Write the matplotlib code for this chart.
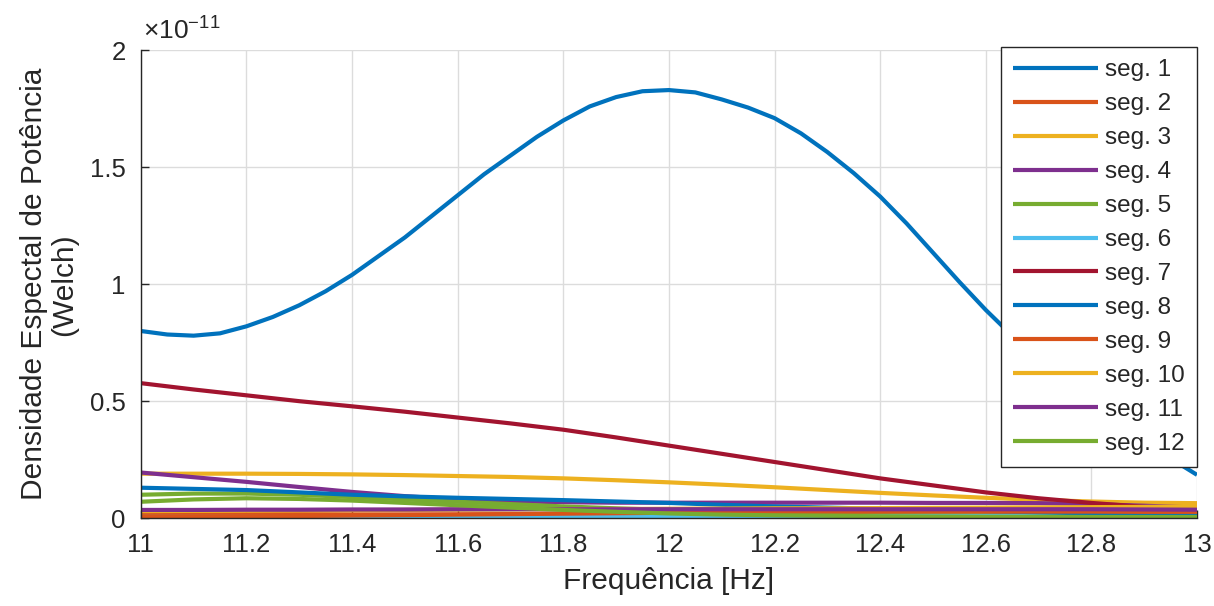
import matplotlib
matplotlib.use("Agg")
import matplotlib.pyplot as plt
import numpy as np

plt.rcParams['font.family'] = ['Liberation Sans', 'DejaVu Sans']
plt.rcParams['mathtext.fontset'] = 'custom'
plt.rcParams['mathtext.rm'] = 'Liberation Sans'
plt.rcParams['mathtext.it'] = 'Liberation Sans'

# frequencias (Hz) e PSD de Welch em unidades de 1e-11
freq = [11.0, 11.1, 11.2, 11.3, 11.4, 11.5, 11.6, 11.7, 11.8, 11.9, 12.0,
        12.1, 12.2, 12.3, 12.4, 12.5, 12.6, 12.7, 12.8, 12.9, 13.0]

# seg. 1 lido com passo mais fino (curva com pico)
freq1 = [11.00, 11.05, 11.10, 11.15, 11.20, 11.25, 11.30, 11.35, 11.40, 11.45,
         11.50, 11.55, 11.60, 11.65, 11.70, 11.75, 11.80, 11.85, 11.90, 11.95,
         12.00, 12.05, 12.10, 12.15, 12.20, 12.25, 12.30, 12.35, 12.40, 12.45,
         12.50, 12.55, 12.60, 12.65, 12.70, 12.75, 12.80, 12.85, 12.90, 12.95, 13.00]
seg1 = [0.800, 0.785, 0.780, 0.790, 0.820, 0.860, 0.910, 0.970, 1.040, 1.120,
        1.200, 1.290, 1.380, 1.470, 1.550, 1.630, 1.700, 1.760, 1.800, 1.825,
        1.830, 1.820, 1.790, 1.755, 1.710, 1.645, 1.565, 1.475, 1.375, 1.260,
        1.135, 1.010, 0.890, 0.780, 0.680, 0.580, 0.490, 0.410, 0.330, 0.255, 0.185]

seg2 = [0.017, 0.017, 0.017, 0.017, 0.016, 0.016, 0.016, 0.017, 0.018, 0.019, 0.020,
        0.021, 0.022, 0.023, 0.024, 0.025, 0.025, 0.026, 0.026, 0.026, 0.026]
seg3 = [0.190, 0.190, 0.190, 0.189, 0.187, 0.184, 0.180, 0.176, 0.170, 0.162, 0.153,
        0.143, 0.132, 0.120, 0.108, 0.097, 0.087, 0.078, 0.071, 0.066, 0.064]
seg4 = [0.195, 0.175, 0.155, 0.133, 0.112, 0.094, 0.080, 0.072, 0.068, 0.066, 0.066,
        0.066, 0.066, 0.066, 0.066, 0.065, 0.065, 0.064, 0.060, 0.053, 0.045]
seg5 = [0.100, 0.105, 0.105, 0.100, 0.090, 0.080, 0.070, 0.060, 0.050, 0.042, 0.035,
        0.030, 0.025, 0.021, 0.018, 0.015, 0.013, 0.011, 0.010, 0.009, 0.008]
seg6 = [0.005, 0.005, 0.005, 0.005, 0.006, 0.006, 0.006, 0.007, 0.007, 0.008, 0.008,
        0.008, 0.009, 0.009, 0.009, 0.010, 0.010, 0.010, 0.010, 0.010, 0.010]
seg7 = [0.577, 0.550, 0.525, 0.500, 0.478, 0.455, 0.430, 0.405, 0.378, 0.345, 0.310,
        0.275, 0.240, 0.205, 0.170, 0.140, 0.110, 0.085, 0.065, 0.048, 0.035]
seg8 = [0.130, 0.125, 0.120, 0.110, 0.100, 0.093, 0.087, 0.082, 0.077, 0.071, 0.065,
        0.057, 0.050, 0.045, 0.040, 0.035, 0.030, 0.025, 0.020, 0.017, 0.015]
seg9 = [0.005, 0.006, 0.007, 0.009, 0.011, 0.013, 0.015, 0.017, 0.019, 0.021, 0.023,
        0.025, 0.027, 0.028, 0.028, 0.028, 0.028, 0.028, 0.028, 0.027, 0.027]
seg10 = [0.030, 0.031, 0.032, 0.033, 0.034, 0.035, 0.036, 0.037, 0.038, 0.039, 0.040,
         0.041, 0.042, 0.042, 0.043, 0.044, 0.045, 0.046, 0.047, 0.048, 0.050]
seg11 = [0.035, 0.035, 0.036, 0.036, 0.037, 0.037, 0.038, 0.038, 0.038, 0.038, 0.038,
         0.038, 0.038, 0.038, 0.038, 0.038, 0.038, 0.038, 0.038, 0.037, 0.036]
seg12 = [0.070, 0.080, 0.085, 0.082, 0.075, 0.065, 0.055, 0.045, 0.035, 0.027, 0.020,
         0.015, 0.012, 0.010, 0.008, 0.007, 0.006, 0.006, 0.005, 0.005, 0.005]

series = [seg1, seg2, seg3, seg4, seg5, seg6, seg7, seg8, seg9, seg10, seg11, seg12]
labels = ['seg. %d' % (i + 1) for i in range(12)]

# cores padrao do MATLAB
cores = ['#0072BD', '#D95319', '#EDB120', '#7E2F8E', '#77AC30', '#4DBEEE', '#A2142F']

fig = plt.figure(figsize=(12.14, 6.06), dpi=100)
ax = fig.add_axes([0.116, 0.145, 0.870, 0.772])

for i, (y, lab) in enumerate(zip(series, labels)):
    x = freq1 if i == 0 else freq
    ax.plot(x, y, color=cores[i % 7], linewidth=3.0, label=lab,
            solid_joinstyle='round', solid_capstyle='butt')

ax.set_xlim(11, 13)
ax.set_ylim(0, 2)
ax.set_xticks(np.arange(11, 13.01, 0.2))
ax.set_xticklabels(['11', '11.2', '11.4', '11.6', '11.8', '12', '12.2', '12.4', '12.6', '12.8', '13'])
ax.set_yticks([0, 0.5, 1, 1.5, 2])
ax.set_yticklabels(['0', '0.5', '1', '1.5', '2'])

ax.grid(True, color='#dcdcdc', linewidth=1.0)
ax.set_axisbelow(True)
ax.spines['top'].set_visible(False)
ax.spines['right'].set_visible(False)
for s in ['left', 'bottom']:
    ax.spines[s].set_color('#262626')
    ax.spines[s].set_linewidth(1.0)
ax.tick_params(direction='in', length=6, width=1, colors='#262626',
               labelsize=18.5, pad=11)

ax.set_xlabel('Frequência [Hz]', fontsize=21.5, color='#262626', labelpad=7)
ax.set_ylabel('Densidade Espectal de Potência\n(Welch)', fontsize=21.5,
              color='#262626', labelpad=8, linespacing=1.1)

ax.text(0.002, 1.012, r'$\times10^{-11}$', transform=ax.transAxes,
        ha='left', va='bottom', fontsize=19, color='#262626')

leg = ax.legend(loc='upper right', bbox_to_anchor=(1.0, 1.0065),
                borderaxespad=0, fontsize=17.5, handlelength=3.5,
                handletextpad=0.3, labelspacing=0.49, borderpad=0.5,
                fancybox=False, framealpha=1, edgecolor='#262626')
leg.get_frame().set_linewidth(1.0)
for t in leg.get_texts():
    t.set_color('#262626')

fig.savefig('out.png', dpi=100)
